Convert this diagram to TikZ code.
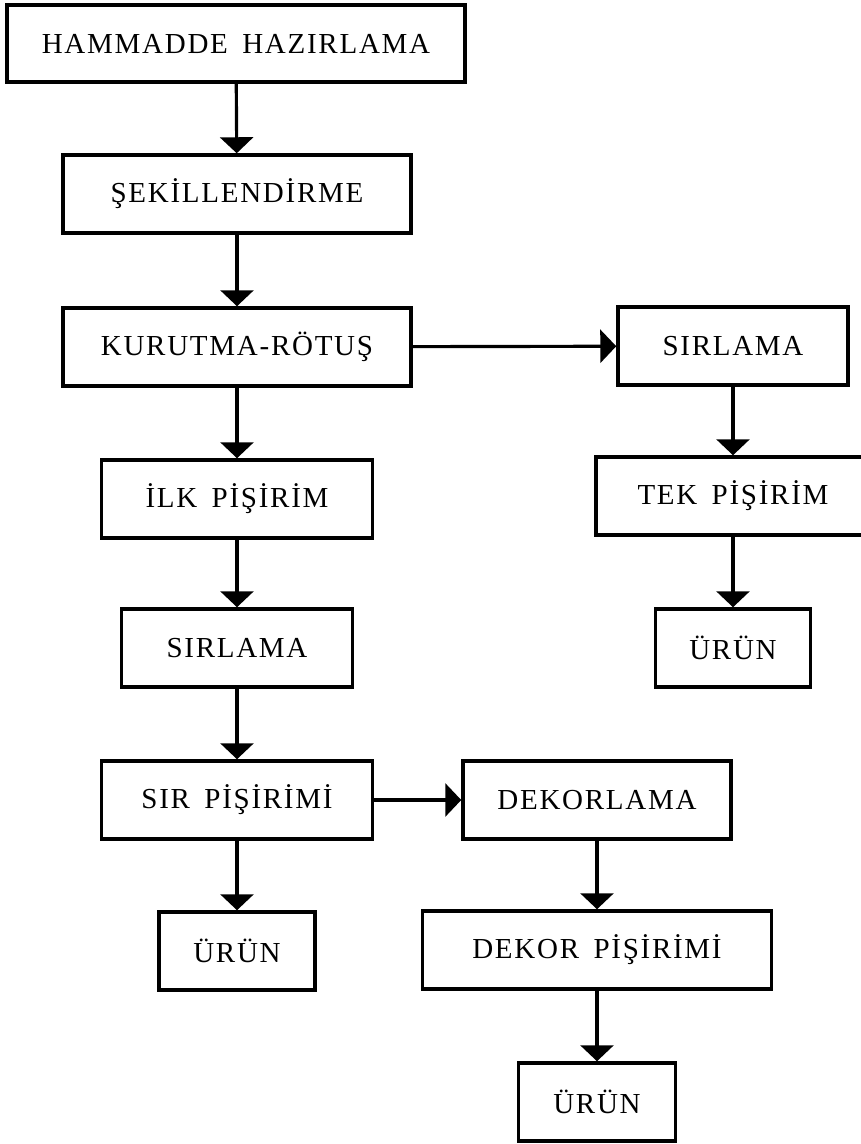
\documentclass[tikz,border=0pt]{standalone}
\usepackage{fontspec}
\setmainfont{Liberation Serif}[LetterSpace=6, WordSpace=1.6]
\usetikzlibrary{arrows.meta}

\tikzset{
  box/.style={draw, line width=2pt, minimum height=1.56cm, inner sep=0pt,
    font=\fontsize{16.5}{20}\selectfont},
  flow/.style={-{Triangle[width=0.66cm, length=0.32cm]}, line width=1.8pt}
}

\begin{document}
\begin{tikzpicture}[x=0.02cm, y=-0.02cm]
        \useasboundingbox (0, 0) rectangle (861, 1144);
        \node[box, minimum width=9.16cm, minimum height=1.54cm] at (236, 43.5) (hammadde) {HAMMADDE HAZIRLAMA};
        \node[box, minimum width=6.96cm] at (237, 194) (sekillendirme) {ŞEKİLLENDİRME};
        \node[box, minimum width=6.96cm] at (237, 347) (kurutma) {KURUTMA-RÖTUŞ};
        \node[box, minimum width=5.42cm] at (237, 499) (ilkpisirim) {İLK PİŞİRİM};
        \node[box, minimum width=4.62cm] at (237, 648) (sirlama1) {SIRLAMA};
        \node[box, minimum width=5.42cm] at (237, 800) (sirpisirimi) {SIR PİŞİRİMİ};
        \node[box, minimum width=3.12cm] at (237, 951) (urun1) {ÜRÜN};
        \node[box, minimum width=4.6cm] at (733, 346) (sirlama2) {SIRLAMA};
        \node[box, minimum width=5.48cm] at (733, 496) (tekpisirim) {TEK PİŞİRİM};
        \node[box, minimum width=3.1cm] at (733, 648) (urun2) {ÜRÜN};
        \node[box, minimum width=5.36cm] at (597, 800) (dekorlama) {DEKORLAMA};
        \node[box, minimum width=6.98cm] at (597, 950) (dekorpisirimi) {DEKOR PİŞİRİMİ};
        \node[box, minimum width=3.14cm] at (597, 1102) (urun3) {ÜRÜN};
        \draw[flow] (hammadde) edge (sekillendirme);
        \draw[flow] (sekillendirme) edge (kurutma);
        \draw[flow] (kurutma) edge (ilkpisirim);
        \draw[flow] (ilkpisirim) edge (sirlama1);
        \draw[flow] (sirlama1) edge (sirpisirimi);
        \draw[flow] (sirpisirimi) edge (urun1);
        \draw[flow] (kurutma) edge (sirlama2);
        \draw[flow] (sirlama2) edge (tekpisirim);
        \draw[flow] (tekpisirim) edge (urun2);
        \draw[flow] (sirpisirimi) edge (dekorlama);
        \draw[flow] (dekorlama) edge (dekorpisirimi);
        \draw[flow] (dekorpisirimi) edge (urun3);
\end{tikzpicture}
\end{document}
